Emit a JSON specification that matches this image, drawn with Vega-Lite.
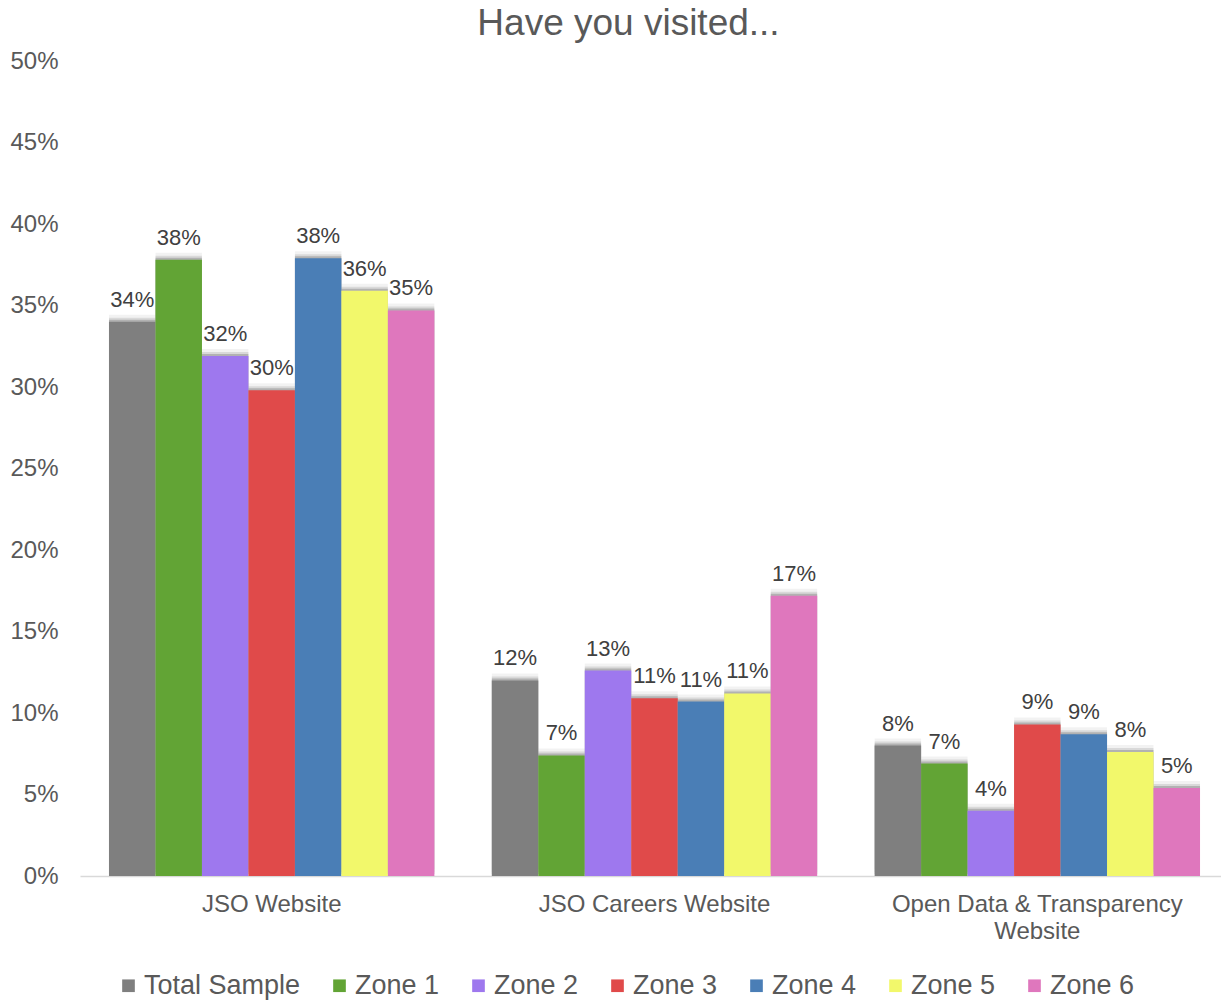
{
  "$schema": "https://vega.github.io/schema/vega-lite/v6.json",
  "width": 1149,
  "height": 815,
  "autosize": {"type": "none"},
  "padding": {"left": 80, "right": 0, "top": 61, "bottom": 125},
  "background": "white",
  "config": {
    "font": "Liberation Sans",
    "view": {"stroke": null}
  },
  "title": {
    "text": "Have you visited...",
    "fontSize": 37,
    "fontWeight": "normal",
    "color": "#595959",
    "offset": 6,
    "dx": -26
  },
  "data": {
    "values": [
      {"site": "JSO Website", "group": "Total Sample", "value": 0.340},
      {"site": "JSO Website", "group": "Zone 1", "value": 0.378},
      {"site": "JSO Website", "group": "Zone 2", "value": 0.319},
      {"site": "JSO Website", "group": "Zone 3", "value": 0.298},
      {"site": "JSO Website", "group": "Zone 4", "value": 0.379},
      {"site": "JSO Website", "group": "Zone 5", "value": 0.359},
      {"site": "JSO Website", "group": "Zone 6", "value": 0.347},
      {"site": "JSO Careers Website", "group": "Total Sample", "value": 0.120},
      {"site": "JSO Careers Website", "group": "Zone 1", "value": 0.074},
      {"site": "JSO Careers Website", "group": "Zone 2", "value": 0.126},
      {"site": "JSO Careers Website", "group": "Zone 3", "value": 0.109},
      {"site": "JSO Careers Website", "group": "Zone 4", "value": 0.107},
      {"site": "JSO Careers Website", "group": "Zone 5", "value": 0.112},
      {"site": "JSO Careers Website", "group": "Zone 6", "value": 0.172},
      {"site": "Open Data & Transparency Website", "group": "Total Sample", "value": 0.080},
      {"site": "Open Data & Transparency Website", "group": "Zone 1", "value": 0.069},
      {"site": "Open Data & Transparency Website", "group": "Zone 2", "value": 0.040},
      {"site": "Open Data & Transparency Website", "group": "Zone 3", "value": 0.093},
      {"site": "Open Data & Transparency Website", "group": "Zone 4", "value": 0.087},
      {"site": "Open Data & Transparency Website", "group": "Zone 5", "value": 0.076},
      {"site": "Open Data & Transparency Website", "group": "Zone 6", "value": 0.054}
    ]
  },
  "encoding": {
    "x": {
      "field": "site",
      "type": "nominal",
      "sort": ["JSO Website", "JSO Careers Website", "Open Data & Transparency Website"],
      "scale": {"paddingInner": 0.15, "paddingOuter": 0.0757},
      "axis": {
        "title": null,
        "labelAngle": 0,
        "labelFontSize": 24,
        "labelColor": "#595959",
        "labelPadding": 16,
        "labelLimit": 500,
        "labelLineHeight": 27,
        "domainColor": "#d9d9d9",
        "domainWidth": 1.5,
        "ticks": false,
        "labelExpr": "datum.value == 'Open Data & Transparency Website' ? ['Open Data & Transparency', 'Website'] : datum.value"
      }
    },
    "xOffset": {
      "field": "group",
      "type": "nominal",
      "sort": ["Total Sample", "Zone 1", "Zone 2", "Zone 3", "Zone 4", "Zone 5", "Zone 6"],
      "scale": {"paddingInner": 0, "paddingOuter": 0}
    },
    "y": {
      "field": "value",
      "type": "quantitative",
      "scale": {"domain": [0, 0.5]},
      "axis": {
        "title": null,
        "format": ".0%",
        "values": [0, 0.05, 0.1, 0.15, 0.2, 0.25, 0.3, 0.35, 0.4, 0.45, 0.5],
        "labelOverlap": false,
        "labelFlush": false,
        "grid": false,
        "domain": false,
        "ticks": false,
        "labelFontSize": 24,
        "labelColor": "#595959",
        "labelPadding": 22
      }
    }
  },
  "layer": [
    {
      "mark": {"type": "bar", "color": "#000000", "opacity": 0.05, "xOffset": 9, "yOffset": -7},
      "encoding": {}
    },
    {
      "mark": {"type": "bar", "color": "#000000", "opacity": 0.1, "xOffset": 6, "yOffset": -4},
      "encoding": {}
    },
    {
      "mark": {"type": "bar", "color": "#000000", "opacity": 0.18, "xOffset": 3, "yOffset": -2},
      "encoding": {}
    },
    {
      "mark": {"type": "bar"},
      "encoding": {
        "color": {
          "field": "group",
          "type": "nominal",
          "sort": ["Total Sample", "Zone 1", "Zone 2", "Zone 3", "Zone 4", "Zone 5", "Zone 6"],
          "scale": {
            "domain": ["Total Sample", "Zone 1", "Zone 2", "Zone 3", "Zone 4", "Zone 5", "Zone 6"],
            "range": ["#7f7f7f", "#62a435", "#9e78ee", "#e04a4a", "#4a7eb6", "#f2f86b", "#df77bd"]
          },
          "legend": {
            "title": null,
            "orient": "none",
            "legendX": 35,
            "legendY": 911,
            "direction": "horizontal",
            "symbolType": "square",
            "symbolSize": 160,
            "symbolStrokeWidth": 0,
            "labelFontSize": 27,
            "labelOffset": 2,
            "labelColor": "#595959",
            "columnPadding": 25
          }
        }
      }
    },
    {
      "mark": {"type": "text", "dy": -22, "fontSize": 22, "color": "#404040"},
      "encoding": {
        "text": {"field": "value", "type": "quantitative", "format": ".0%"}
      }
    }
  ]
}
